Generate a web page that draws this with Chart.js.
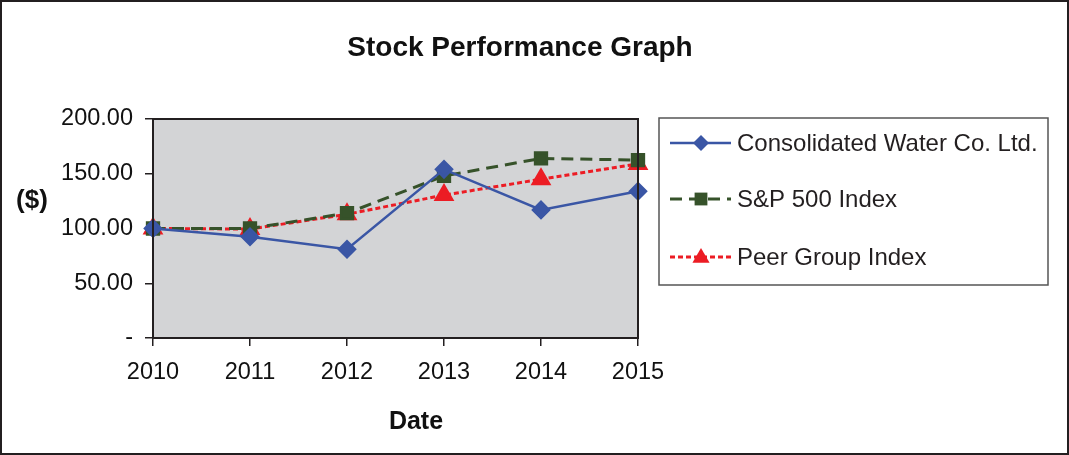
<!DOCTYPE html>
<html>
<head>
<meta charset="utf-8">
<script src="https://cdn.jsdelivr.net/npm/chart.js@4"></script>
<style>
  html, body { margin: 0; padding: 0; background: #fff; }
  #wrap { width: 1069px; height: 455px; position: relative; }
</style>
</head>
<body>
<div id="wrap"><canvas id="chart"></canvas></div>
<script>
const years = ['2010', '2011', '2012', '2013', '2014', '2015']
const consolidated = [100, 92.5, 81, 154, 117, 134]
const sp500 = [100, 100, 114, 148, 164, 162.5]
const peerGroup = [100, 99.5, 113, 130.5, 145, 159]
const yTicks = [0, 50, 100, 150, 200]

const FONT = '"Liberation Sans", Arial, Helvetica, sans-serif'

// gray plot background, plot border, outer frame, titles and boxed legend
const decorations = {
  id: 'decorations',
  beforeDraw(chart) {
    const { ctx, chartArea: a } = chart
    ctx.save()
    ctx.fillStyle = '#d3d4d6'
    ctx.fillRect(a.left, a.top, a.right - a.left, a.bottom - a.top)
    ctx.restore()
  },
  afterDraw(chart) {
    const { ctx, chartArea: a } = chart
    ctx.save()
    ctx.strokeStyle = '#231f20'
    ctx.lineWidth = 2
    ctx.strokeRect(a.left, a.top, a.right - a.left, a.bottom - a.top)
    ctx.strokeRect(1, 1, chart.width - 2, chart.height - 2)

    ctx.fillStyle = '#111'
    ctx.textAlign = 'center'
    ctx.textBaseline = 'middle'
    ctx.font = 'bold 28px ' + FONT
    ctx.fillText('Stock Performance Graph', 520, 48)
    ctx.font = 'bold 26px ' + FONT
    ctx.fillText('($)', 32, 201)
    ctx.font = 'bold 25px ' + FONT
    ctx.fillText('Date', 416, 422)

    // legend box
    const bx = 659, by = 118, bw = 389, bh = 167
    ctx.lineWidth = 1.5
    ctx.strokeStyle = '#555'
    ctx.strokeRect(bx, by, bw, bh)
    const rows = [143, 199, 257]
    chart.data.datasets.forEach((ds, i) => {
      const y = rows[i]
      ctx.strokeStyle = ds.borderColor
      ctx.lineWidth = ds.borderWidth
      ctx.setLineDash(ds.borderDash || [])
      ctx.beginPath()
      ctx.moveTo(670, y)
      ctx.lineTo(731, y)
      ctx.stroke()
      ctx.setLineDash([])
      ctx.fillStyle = ds.pointBackgroundColor
      ctx.beginPath()
      drawMarker(ctx, ds.pointStyle, 701, y, ds.pointRadius)
      ctx.fill()
      ctx.fillStyle = '#231f20'
      ctx.font = '24px ' + FONT
      ctx.textAlign = 'left'
      ctx.fillText(ds.label, 737, y + 1)
    })
    ctx.restore()
  }
}

function drawMarker(ctx, style, x, y, r) {
  if (style === 'rectRot') {
    ctx.moveTo(x, y - r); ctx.lineTo(x + r, y); ctx.lineTo(x, y + r); ctx.lineTo(x - r, y); ctx.closePath()
  } else if (style === 'rect') {
    ctx.rect(x - r * 0.8, y - r * 0.8, r * 1.6, r * 1.6)
  } else if (style === 'triangle') {
    ctx.moveTo(x, y - r); ctx.lineTo(x + r * 0.95, y + r * 0.65); ctx.lineTo(x - r * 0.95, y + r * 0.65); ctx.closePath()
  }
}

new Chart(document.getElementById('chart'), {
  type: 'line',
  data: {
    labels: years,
    datasets: [
      {
        label: 'Consolidated Water Co. Ltd.',
        data: consolidated,
        borderColor: '#3a56a5',
        backgroundColor: '#3a56a5',
        pointBackgroundColor: '#3a56a5',
        pointBorderColor: '#3a56a5',
        borderWidth: 2.5,
        pointStyle: 'rectRot',
        pointRadius: 8,
        tension: 0
      },
      {
        label: 'S&P 500 Index',
        data: sp500,
        borderColor: '#36522a',
        backgroundColor: '#36522a',
        pointBackgroundColor: '#36522a',
        pointBorderColor: '#36522a',
        borderWidth: 3,
        borderDash: [12, 7],
        pointStyle: 'rect',
        pointRadius: 8,
        tension: 0
      },
      {
        label: 'Peer Group Index',
        data: peerGroup,
        borderColor: '#ec1c24',
        backgroundColor: '#ec1c24',
        pointBackgroundColor: '#ec1c24',
        pointBorderColor: '#ec1c24',
        borderWidth: 3,
        borderDash: [5, 3],
        pointStyle: 'triangle',
        pointRadius: 9,
        tension: 0
      }
    ]
  },
  options: {
    responsive: true,
    maintainAspectRatio: false,
    animation: false,
    layout: { padding: { top: 119, right: 431, left: 0, bottom: 0 } },
    plugins: {
      legend: { display: false },
      title: { display: false },
      tooltip: { enabled: false }
    },
    scales: {
      x: {
        offset: false,
        afterFit: s => { s.height = 117 },
        grid: { drawOnChartArea: false, tickLength: 8, color: '#231f20', lineWidth: 1.5 },
        border: { color: '#231f20', width: 2 },
        ticks: { color: '#111', font: { family: FONT, size: 23.5 }, padding: 12, maxRotation: 0 }
      },
      y: {
        min: 0,
        max: 200,
        afterFit: s => { s.width = 153 },
        afterBuildTicks: s => { s.ticks = yTicks.map(v => ({ value: v })) },
        grid: { drawOnChartArea: false, tickLength: 8, color: '#231f20', lineWidth: 1.5 },
        border: { color: '#231f20', width: 2 },
        ticks: {
          color: '#111',
          font: { family: FONT, size: 23.5 },
          padding: 12,
          callback: v => v === 0 ? '-' : v.toFixed(2)
        }
      }
    }
  },
  plugins: [decorations]
})
</script>
</body>
</html>
